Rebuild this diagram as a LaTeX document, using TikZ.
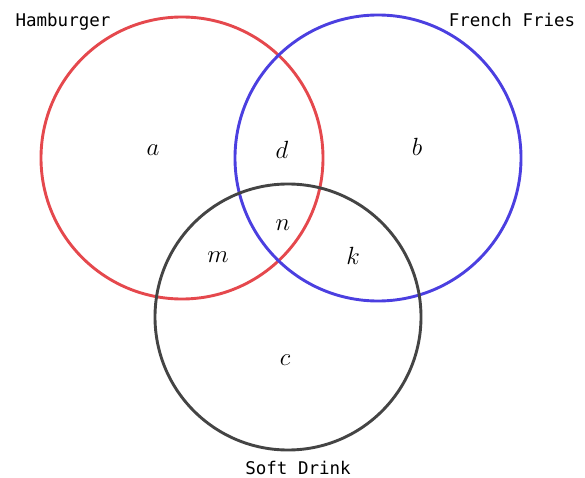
\documentclass[tikz,border=0pt]{standalone}
\usepackage{amsmath, amssymb}
\usepackage{xcolor}
\usepackage{fontspec}
\setmonofont{DejaVu Sans Mono}
\usepackage{tikz}

\definecolor{burgerred}{HTML}{E5484D}
\definecolor{friesblue}{HTML}{4B3FE0}
\definecolor{drinkgray}{HTML}{444444}

\begin{document}
\begin{tikzpicture}[x=1pt, y=-1pt,
  ring/.style={line width=2.9pt},
  region/.style={font=\fontsize{28}{32}\selectfont},
  setname/.style={inner sep=0pt, font=\ttfamily\fontsize{17.5}{20}\selectfont}]

\useasboundingbox (0,0) rectangle (585,478);

\coordinate (H) at (182,158);
\coordinate (F) at (378,158);
\coordinate (S) at (288,317);

\draw[ring, burgerred] (H) circle (141);
\draw[ring, friesblue] (F) circle (143);
\draw[ring, drinkgray] (S) circle (133);

\node[region] (ra) at (153,150) {$a$};
\node[region] (rd) at (282,150) {$d$};
\node[region] (rb) at (417,147) {$b$};
\node[region] (rn) at (283,225) {$n$};
\node[region] (rm) at (218,257) {$m$};
\node[region] (rk) at (353,256) {$k$};
\node[region] (rc) at (285,360) {$c$};

\node[setname] (lh) at (63,22) {Hamburger};
\node[setname] (lf) at (512,20) {French Fries};
\node[setname] (ls) at (298,468) {Soft Drink};

\end{tikzpicture}
\end{document}
